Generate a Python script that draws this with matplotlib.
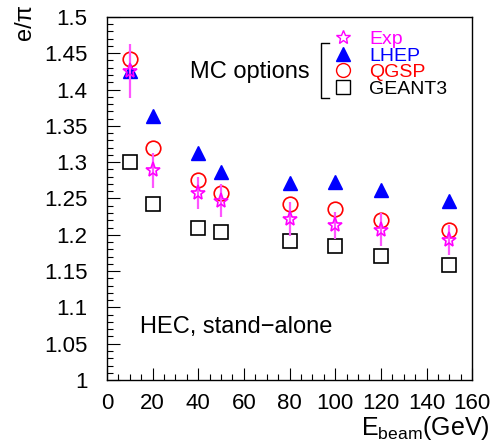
import matplotlib
matplotlib.use("Agg")
import matplotlib.pyplot as plt
from matplotlib.lines import Line2D
from matplotlib.ticker import MultipleLocator

plt.rcParams['font.family'] = ['Liberation Sans', 'DejaVu Sans']
plt.rcParams['mathtext.default'] = 'regular'

energy = [10, 20, 40, 50, 80, 100, 120, 150]
exp_val = [1.425, 1.289, 1.257, 1.247, 1.222, 1.213, 1.207, 1.193]
exp_err = [0.037, 0.024, 0.022, 0.023, 0.023, 0.019, 0.023, 0.021]
lhep = [1.425, 1.363, 1.312, 1.287, 1.271, 1.272, 1.262, 1.247]
qgsp = [1.442, 1.320, 1.276, 1.258, 1.243, 1.235, 1.221, 1.206]
geant3 = [1.300, 1.243, 1.210, 1.204, 1.192, 1.184, 1.171, 1.159]

fig = plt.figure(figsize=(4.95, 4.44), dpi=100)
ax = fig.add_axes([0.216, 0.144, 0.738, 0.818])

ax.plot(energy, geant3, 's', ms=10, mfc='none', mec='black', mew=1.2, ls='none')
ax.plot(energy, lhep, '^', ms=10, color='blue', ls='none')
ax.plot(energy, qgsp, 'o', ms=10.5, mfc='none', mec='red', mew=1.2, ls='none')
ax.errorbar(energy, exp_val, yerr=exp_err, fmt='none', ecolor='#ff55ff', elinewidth=1.6)
ax.plot(energy, exp_val, '*', ms=11, mfc='none', mec='magenta', mew=1.2, ls='none')

ax.set_xlim(0, 160)
ax.set_ylim(1.0, 1.5)
ax.xaxis.set_major_locator(MultipleLocator(20))
ax.xaxis.set_minor_locator(MultipleLocator(5))
ax.yaxis.set_minor_locator(MultipleLocator(0.01))
ax.set_yticks([1, 1.05, 1.1, 1.15, 1.2, 1.25, 1.3, 1.35, 1.4, 1.45, 1.5])
ax.set_yticklabels(['1', '1.05', '1.1', '1.15', '1.2', '1.25', '1.3', '1.35', '1.4', '1.45', '1.5'])
ax.tick_params(which='both', direction='in', top=False, right=False, labelsize=16, width=0.8)
ax.tick_params(which='major', length=9)
ax.tick_params(which='minor', length=4.5)
ax.tick_params(axis='y', pad=14)
ax.tick_params(axis='x', pad=9)
for s in ax.spines.values():
    s.set_linewidth(1.0)

handles = [
    Line2D([], [], marker='*', ms=10, mfc='none', mec='magenta', ls='none'),
    Line2D([], [], marker='^', ms=10, color='blue', ls='none'),
    Line2D([], [], marker='o', ms=10, mfc='none', mec='red', ls='none'),
    Line2D([], [], marker='s', ms=10, mfc='none', mec='black', ls='none'),
]
labels = ['Exp', 'LHEP', 'QGSP', 'GEANT3']
leg = ax.legend(handles, labels, loc='center left', bbox_to_anchor=(0.585, 0.87),
                frameon=False, fontsize=14, labelspacing=-0.05, handletextpad=0.7,
                handlelength=1.3, borderpad=0.0, labelcolor=['magenta', 'blue', 'red', 'black'])

# bracket grouping MC options
ax.plot([0.608, 0.586, 0.586, 0.608], [0.928, 0.928, 0.777, 0.777], color='black', lw=1,
        transform=ax.transAxes, clip_on=False)
ax.text(0.556, 0.848, 'MC options', transform=ax.transAxes, ha='right', va='center', fontsize=17)
ax.text(0.09, 0.146, 'HEC, stand\u2212alone', transform=ax.transAxes, ha='left', va='center', fontsize=17)

fig.text(0.05, 0.99, 'e/\u03c0', rotation=90, ha='center', va='top', fontsize=17)
fig.text(0.99, 0.005, 'E$_{beam}$(GeV)', ha='right', va='bottom', fontsize=18)

fig.savefig('out.png', dpi=100)
